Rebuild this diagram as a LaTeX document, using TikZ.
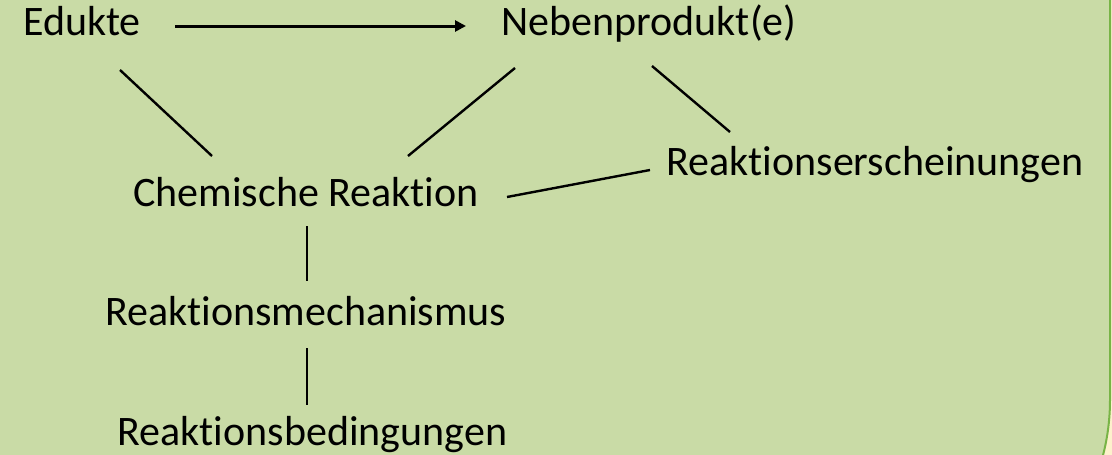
\documentclass[tikz,border=0pt]{standalone}
\usepackage{fontspec}
\setmainfont[Ligatures={NoCommon}]{Carlito}
\usetikzlibrary{calc,arrows.meta}
\definecolor{bgfill}{HTML}{C9DBA6}
\definecolor{bordergreen}{HTML}{78B446}
\definecolor{outside}{HTML}{FDF1CC}
\tikzset{
  lbl/.style={inner sep=0pt, anchor=base, font=\fontsize{42}{50}\selectfont, text=black},
  conn/.style={draw=black, line width=2.4pt},
  arr/.style={draw=black, line width=3pt, -{Triangle[length=11pt,width=11pt]}}
}
\begin{document}
\begin{tikzpicture}[x=1pt,y=-1pt]
\useasboundingbox (0,0) rectangle (1112,455);
\fill[outside] (0,0) rectangle (1112,455);
\fill[bgfill, draw=bordergreen, line width=2pt, rounded corners=220pt] (-300,-300) rectangle (1110,620);

\node[lbl] (edukte) at (82,35) {Edukte};
\node[lbl] (neben) at (649,35) {Nebenprodukt(e)};
\node[lbl] (chem) at (306,206) {Chemische Reaktion};
\node[lbl] (ersch) at (875,175) {Reaktionserscheinungen};
\node[lbl] (mech) at (306,325) {Reaktionsmechanismus};
\node[lbl] (bed) at (312.5,445) {Reaktionsbedingungen};

\draw[arr] ($(edukte.base)+(93,-9)$) -- ($(neben.base)+(-183,-9)$);
\draw[conn] ($(edukte.base)+(38,35)$) -- ($(chem.base)+(-94,-50)$);
\draw[conn] ($(neben.base)+(-134,33)$) -- ($(chem.base)+(102,-50)$);
\draw[conn] ($(neben.base)+(3,31)$) -- ($(ersch.base)+(-145,-43)$);
\draw[conn] ($(chem.base)+(201,-9)$) -- ($(ersch.base)+(-225,-5)$);
\draw[conn] ($(chem.base)+(1,20)$) -- ($(mech.base)+(1,-44)$);
\draw[conn] ($(mech.base)+(1,23)$) -- ($(bed.base)+(-5.5,-40)$);
\end{tikzpicture}
\end{document}
